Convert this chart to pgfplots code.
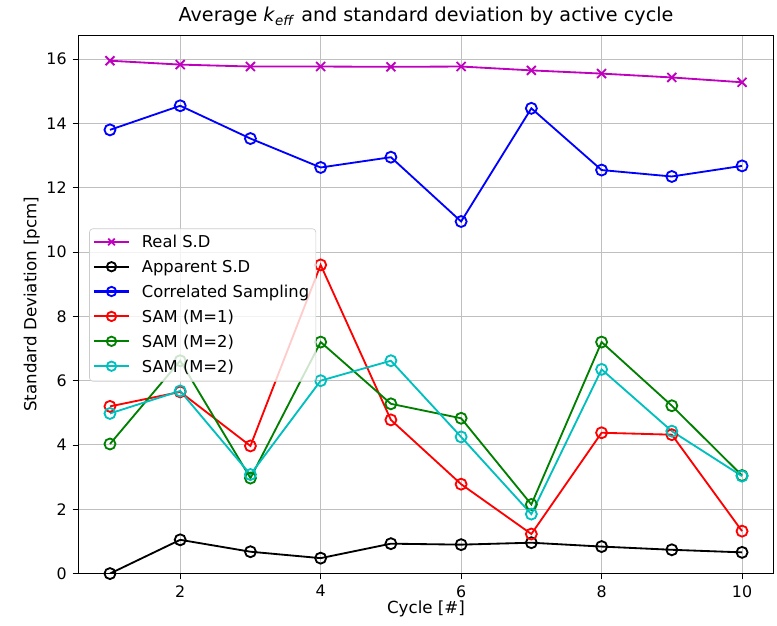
\documentclass[border=0pt]{standalone}
\usepackage{pgfplots}
\pgfplotsset{compat=1.18}
\usepackage{fontspec}
\setmainfont{DejaVu Sans}
\definecolor{mplm}{rgb}{0.75,0,0.75}
\definecolor{mplg}{rgb}{0,0.5,0}
\definecolor{mplc}{rgb}{0,0.75,0.75}
\begin{document}
\begin{tikzpicture}
\begin{axis}[
  scale only axis,
  width=417pt, height=323pt,
  xmin=0.55, xmax=10.45, ymin=0, ymax=16.75,
  xtick={2,4,6,8,10}, ytick={0,2,4,6,8,10,12,14,16},
  xtick pos=bottom, ytick pos=left,
  grid=major,
  major grid style={gray!50, line width=0.6pt},
  tick align=outside,
  tick style={black, line width=0.5pt},
  major tick length=3.5pt,
  axis line style={black, line width=0.6pt},
  tick label style={font=\fontsize{9.5}{11}\selectfont},
  /pgf/number format/assume math mode=true,
  xlabel={Cycle [\#]},
  ylabel={Standard Deviation [pcm]},
  label style={font=\fontsize{9.5}{11}\selectfont},
  every axis y label/.style={at={(rel axis cs:0,0.5)}, xshift=-28pt, rotate=90, anchor=center},
  every axis x label/.style={at={(rel axis cs:0.5,0)}, yshift=-21pt, anchor=center},
  title={Average \textit{k}\textsubscript{\textit{eff}} and standard deviation by active cycle},
  every axis title/.style={at={(rel axis cs:0.5,1)}, yshift=11pt, anchor=center},
  title style={font=\fontsize{11.5}{13}\selectfont},
  legend style={at={(6.5pt,207pt)}, anchor=north west, draw=gray!40, rounded corners=2pt,
    font=\fontsize{9.8}{11}\selectfont, fill=white, fill opacity=0.8, text opacity=1,
    row sep=2pt, inner sep=2pt},
  legend cell align=left,
  legend image code/.code={\draw[line width=1.3pt, mark repeat=2,mark phase=2, mark size=2.8pt, mark options={line width=1.1pt}] plot coordinates {(0cm,0.02cm)(0.37cm,0.02cm)(0.74cm,0.02cm)}; \path (0.92cm,0);},
  every axis plot/.append style={line width=1.1pt, mark size=3.3pt, mark options={solid, fill=none}},
]
\addplot[mplm, mark=x, mark size=3.8pt] coordinates {(1,15.95)(2,15.83)(3,15.77)(4,15.77)(5,15.76)(6,15.77)(7,15.65)(8,15.55)(9,15.43)(10,15.28)};
\addlegendentry{Real S.D}
\addplot[black, mark=o] coordinates {(1,0)(2,1.05)(3,0.68)(4,0.48)(5,0.93)(6,0.9)(7,0.96)(8,0.84)(9,0.74)(10,0.66)};
\addlegendentry{Apparent S.D}
\addplot[blue, mark=o] coordinates {(1,13.8)(2,14.55)(3,13.53)(4,12.63)(5,12.95)(6,10.95)(7,14.47)(8,12.55)(9,12.35)(10,12.68)};
\addlegendentry{Correlated Sampling}
\addplot[red, mark=o] coordinates {(1,5.2)(2,5.65)(3,3.97)(4,9.6)(5,4.78)(6,2.78)(7,1.23)(8,4.38)(9,4.32)(10,1.32)};
\addlegendentry{SAM (M=1)}
\addplot[mplg, mark=o] coordinates {(1,4.03)(2,6.62)(3,2.97)(4,7.2)(5,5.28)(6,4.83)(7,2.15)(8,7.2)(9,5.22)(10,3.05)};
\addlegendentry{SAM (M=2)}
\addplot[mplc, mark=o] coordinates {(1,4.98)(2,5.68)(3,3.08)(4,6.0)(5,6.62)(6,4.25)(7,1.85)(8,6.35)(9,4.43)(10,3.03)};
\addlegendentry{SAM (M=2)}
\end{axis}
\pgfresetboundingbox
\path (-47pt,-31pt) rectangle (419pt,344pt);
\end{tikzpicture}
\end{document}
